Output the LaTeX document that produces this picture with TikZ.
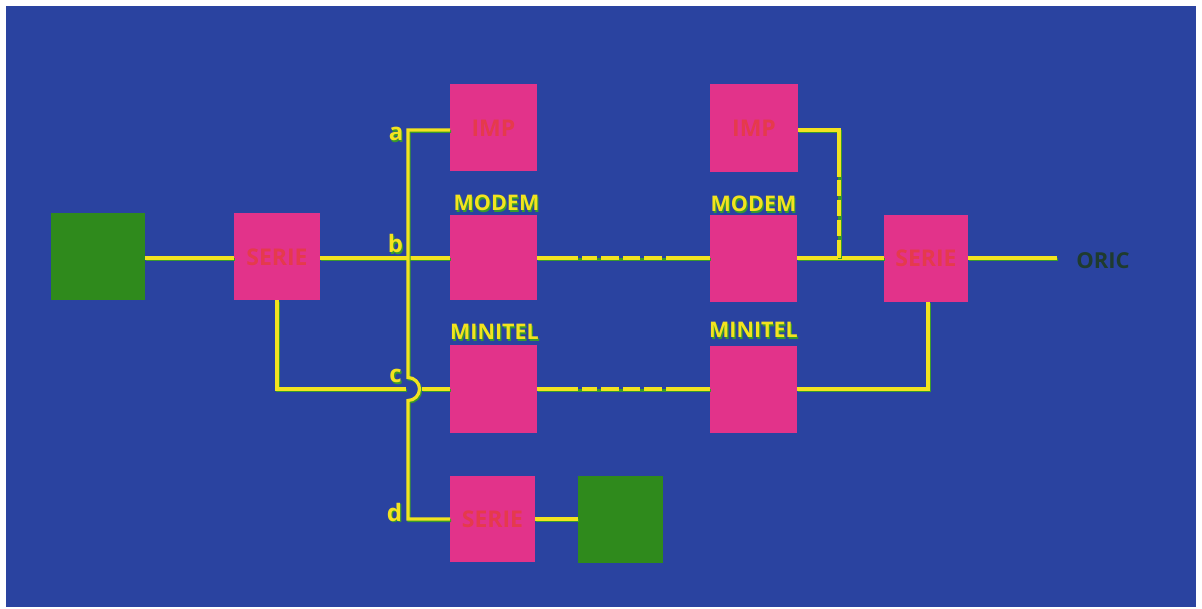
\documentclass[tikz,border=0pt]{standalone}
\usepackage{fontspec}
\setmainfont{Open Sans}
\definecolor{bgblue}{HTML}{2A43A0}
\definecolor{boxpink}{HTML}{E2338A}
\definecolor{boxgreen}{HTML}{2F8A1C}
\definecolor{wireyellow}{HTML}{F3E31F}
\definecolor{wireshadow}{HTML}{3A9A2A}
\definecolor{labelred}{HTML}{E53A4C}
\definecolor{oricdark}{HTML}{1F3B2E}
\newcommand{\shtext}[1]{\makebox[0pt][l]{\hspace{1.2pt}\raisebox{-1.2pt}{\color{wireshadow}#1}}#1}
\begin{document}
\begin{tikzpicture}[x=1pt,y=-1pt,
  pbox/.style={fill=boxpink, draw=none, inner sep=0pt, outer sep=0pt,
    minimum width=87pt, minimum height=87pt, text=labelred,
    font=\fontsize{23}{23}\selectfont\bfseries, text depth=0pt},
  gbox/.style={fill=boxgreen, draw=none, inner sep=0pt, outer sep=0pt,
    minimum width=86pt, minimum height=87pt},
  wire/.style={draw=wireyellow, line width=3.2pt, line join=miter,
    preaction={draw=wireshadow, line width=3.2pt,
      transform canvas={shift={(1pt,-1.4pt)}}}},
  ylab/.style={text=wireyellow, font=\fontsize{21.5}{21.5}\selectfont\bfseries,
    anchor=base, inner sep=0pt},
  letter/.style={text=wireyellow, font=\fontsize{24}{24}\selectfont\bfseries,
    anchor=base, inner sep=0pt}]
\useasboundingbox (0,0) rectangle (1202,609);
\fill[white] (0,0) rectangle (1202,609);
\fill[bgblue] (6,6) rectangle (1196,607);

% coordinates for the bus and junctions
\coordinate (ba) at (408,130);
\coordinate (hopT) at (408,377.5);
\coordinate (hopL) at (406,389);
\coordinate (hopR) at (422,389);
\coordinate (bd) at (408,519);
\coordinate (sLc) at (277,389);
\coordinate (iR) at (839,130);
\coordinate (jR) at (839,258);
\coordinate (mc) at (928,389);
\coordinate (oricEnd) at (1057,258);

% boxes
\path (98,257) node[gbox, minimum width=94pt] (gL) {};
\path (277,257) node[pbox, minimum width=86pt] (sL) {SERIE};
\path (493.5,128) node[pbox] (impL) {IMP};
\path (493.5,258) node[pbox, minimum height=85pt] (modL) {};
\path (493.5,389) node[pbox] (minL) {};
\path (492.5,519) node[pbox, minimum width=85pt, minimum height=86pt] (serB) {SERIE};
\path (620.5,519.5) node[gbox, minimum width=85pt] (gB) {};
\path (754,128) node[pbox, minimum width=88pt, minimum height=88pt] (impR) {IMP};
\path (753.5,258.5) node[pbox] (modR) {};
\path (753.5,389.5) node[pbox] (minR) {};
\path (926,258.5) node[pbox, minimum width=84pt] (sR) {SERIE};

% wires
\draw[wire] (gL.east |- jR) -- (sL.west |- jR);
\draw[wire] (sL.east |- jR) -- (modL.west |- jR);
\draw[wire] (impL.west |- ba) -- (ba) -- (hopT)
  arc[start angle=-90, end angle=90, radius=11.5] -- (bd) -- (serB.west |- bd);
\draw[wire] (sL.south -| sLc) -- (sLc) -- (hopL);
\draw[wire] (hopR) -- (minL.west |- hopR);
\draw[wire] (serB.east |- bd) -- (gB.west |- bd);
\draw[wire, dash pattern=on 41pt off 4pt on 15pt off 4pt on 18pt off 4pt on 17pt off 4pt on 18pt off 4pt on 50pt]
  (modL.east |- jR) -- (modR.west |- jR);
\draw[wire, dash pattern=on 41pt off 4pt on 15pt off 4pt on 18pt off 4pt on 17pt off 4pt on 18pt off 4pt on 50pt]
  (minL.east |- hopR) -- (minR.west |- hopR);
\draw[wire] (modR.east |- jR) -- (sR.west |- jR);
\draw[wire, dash pattern=on 88pt off 3pt on 16pt off 4pt on 16pt off 4pt on 16pt off 4pt on 30pt]
  (impR.east |- iR) -- (iR) -- (jR);
\draw[wire] (sR.east |- jR) -- (oricEnd);
\draw[wire] (minR.east |- mc) -- (mc) -- (mc |- sR.south);

% yellow labels
\node[ylab] (tModL) at (496.5,211) {\shtext{MODEM}};
\node[ylab] (tModR) at (753.5,212) {\shtext{MODEM}};
\node[ylab] (tMinL) at (494.5,340) {\shtext{MINITEL}};
\node[ylab] (tMinR) at (753.5,338) {\shtext{MINITEL}};
\node[letter] (la) at (396,141) {\shtext{a}};
\node[letter] (lb) at (395.5,253) {\shtext{b}};
\node[letter] (lc) at (395.5,383) {\shtext{c}};
\node[letter] (ld) at (394.5,521) {\shtext{d}};
\node[anchor=base, inner sep=0pt, text=oricdark, font=\fontsize{22}{22}\selectfont\bfseries] (oric) at (1103,269) {ORIC};
\end{tikzpicture}
\end{document}
